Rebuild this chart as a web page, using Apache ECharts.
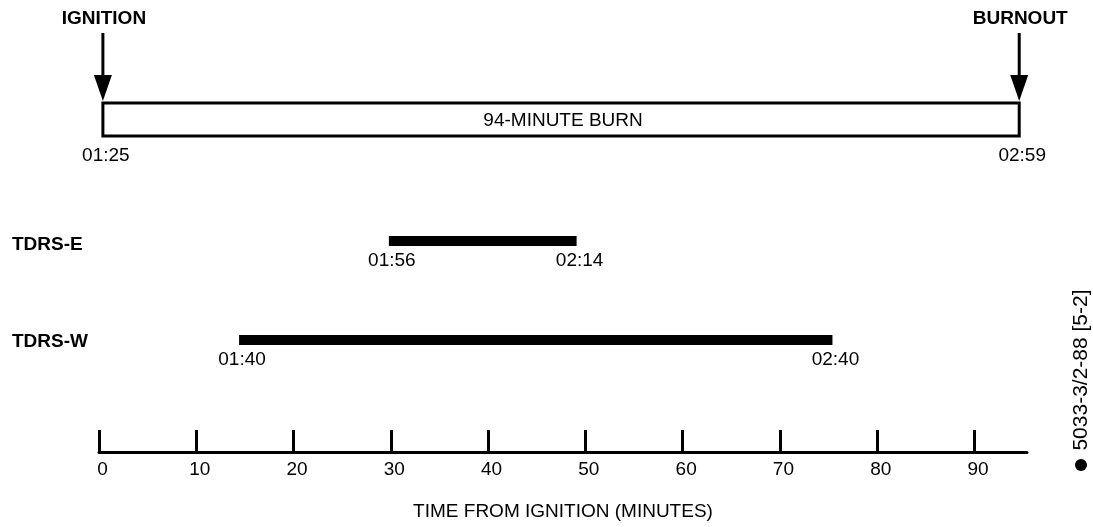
<!DOCTYPE html>
<html>
<head>
<meta charset="utf-8">
<script src="https://cdn.jsdelivr.net/npm/echarts@6/dist/echarts.min.js"></script>
<style>
  html, body { margin: 0; padding: 0; background: #fff; }
  #main { width: 1093px; height: 527px; }
</style>
</head>
<body>
<div id="main"></div>
<script>
// timeline rows, minutes after ignition
var rowNames = ['94-MINUTE BURN', 'TDRS-E', 'TDRS-W'];
var startMin = [0.4, 29.8, 14.4];
var endMin = [94.6, 49.1, 75.4];
var startText = ['01:25', '01:56', '01:40'];
var endText = ['02:59', '02:14', '02:40'];
var eventNames = ['IGNITION', 'BURNOUT'];

var tickValues = [0, 10, 20, 30, 40, 50, 60, 70, 80, 90];
var axisMax = 95.4;
var axisTitle = 'TIME FROM IGNITION (MINUTES)';
var docNumber = '5033-3/2-88 [5-2]';

var FONT = 'Liberation Sans, Arial, sans-serif';
var FS = 19;
var plotLeft = 99;
var plotWidth = 928;
// top / height of each row band, last one is the time axis
var bands = [[102, 35], [236, 10], [335, 10], [430, 22]];

function txt(x, y, s, bold, align) {
  return {
    type: 'text', x: x, y: y,
    style: {
      text: s, fill: '#000', font: (bold ? 'bold ' : '') + FS + 'px ' + FONT,
      align: align || 'center', verticalAlign: 'middle'
    }
  };
}

function renderRow(i) {
  return function (params, api) {
    var a = api.coord([api.value(0), 0]);
    var b = api.coord([api.value(1), 0]);
    var h = api.size([0, 1])[1];
    var top = a[1] - h / 2;
    var kids = [];
    if (i === 0) {
      kids.push({
        type: 'rect',
        shape: { x: a[0], y: top + 1, width: b[0] - a[0], height: h - 2 },
        style: { fill: '#fff', stroke: '#000', lineWidth: 3 }
      });
      kids.push(txt((a[0] + b[0]) / 2 + 2, a[1] + 1, rowNames[0], false));
      [a, b].forEach(function (p, k) {
        kids.push({
          type: 'line',
          shape: { x1: p[0], y1: top - 69, x2: p[0], y2: top - 26 },
          style: { stroke: '#000', lineWidth: 3 }
        });
        kids.push({
          type: 'polygon',
          shape: { points: [[p[0] - 9, top - 27], [p[0] + 9, top - 27], [p[0], top - 1]] },
          style: { fill: '#000' }
        });
        kids.push(txt(p[0] + 1, top - 83, eventNames[k], true));
      });
    } else {
      kids.push({
        type: 'rect',
        shape: { x: a[0], y: top, width: b[0] - a[0], height: h },
        style: { fill: '#000' }
      });
      // row name at the left edge
      kids.push(txt(12, a[1] + (i === 1 ? 4 : 2), rowNames[i], true, 'left'));
    }
    var off = i === 0 ? 19 : 15;
    kids.push(txt(a[0] + 3, top + h + off, startText[i], false));
    kids.push(txt(b[0] + 3, top + h + off, endText[i], false));
    return { type: 'group', children: kids };
  };
}

var grids = [], xAxes = [], yAxes = [], series = [];
bands.forEach(function (bd, i) {
  grids.push({ left: plotLeft, width: plotWidth, top: bd[0], height: bd[1] });
  var isAxis = i === bands.length - 1;
  xAxes.push({
    type: 'value', gridIndex: i, min: 0, max: axisMax, show: isAxis,
    splitLine: { show: false },
    axisLine: { show: true, lineStyle: { color: '#000', width: 3 } },
    axisTick: { show: true, inside: true, length: 22, customValues: tickValues,
                lineStyle: { color: '#000', width: 3 } },
    axisLabel: { show: true, customValues: tickValues, margin: 8, color: '#000',
                 fontSize: FS, fontFamily: FONT, padding: [0, 0, 0, 7] },
    name: isAxis ? axisTitle : '',
    nameLocation: 'middle', nameGap: 50,
    nameTextStyle: { color: '#000', fontSize: FS, fontFamily: FONT }
  });
  yAxes.push({
    type: 'category', gridIndex: i, data: [rowNames[i] || ''],
    show: false
  });
  if (!isAxis) {
    series.push({
      type: 'custom', xAxisIndex: i, yAxisIndex: i, clip: false,
      encode: { x: [0, 1], y: 2 },
      data: [[startMin[i], endMin[i], 0]],
      renderItem: renderRow(i)
    });
  }
});

var chart = echarts.init(document.getElementById('main'));
chart.setOption({
  backgroundColor: '#fff',
  animation: false,
  grid: grids,
  xAxis: xAxes,
  yAxis: yAxes,
  series: series,
  graphic: [
    {
      type: 'text', x: 1081, y: 370, rotation: Math.PI / 2,
      style: { text: docNumber, fill: '#000', font: '21px ' + FONT,
               align: 'center', verticalAlign: 'middle' }
    },
    { type: 'circle', shape: { cx: 1081, cy: 465, r: 6 }, style: { fill: '#000' } }
  ]
});
</script>
</body>
</html>
